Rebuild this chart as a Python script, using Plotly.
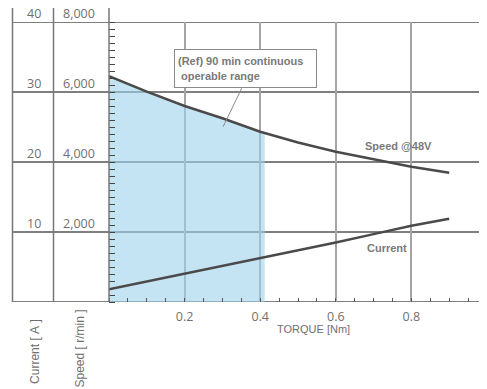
import plotly.graph_objects as go

# values
torque = [0, 0.1, 0.2, 0.3, 0.4, 0.5, 0.6, 0.7, 0.8, 0.9]
speed = [6450, 6010, 5600, 5250, 4866, 4557, 4294, 4070, 3866, 3694]
current = [1.8, 2.9, 4.1, 5.2, 6.3, 7.4, 8.5, 9.7, 10.9, 11.9]

# 90 min continuous operable range (shaded)
range_torque = [0, 0.1, 0.2, 0.3, 0.4, 0.412]
range_speed = [6450, 6010, 5600, 5250, 4866, 4835]

speed_ticks = [2000, 4000, 6000, 8000]
speed_labels = ["2,000", "4,000", "6,000", "8,000"]
current_labels = ["10", "20", "30", "40"]
y_max = 8000

LABEL_FONT = "Open Sans, Noto Sans, sans-serif"
TEXT_FONT = "Liberation Sans, Arial, sans-serif"
TXT = "#707070"
DARK = "#4a4a4a"
NB = "\u00a0"

fig = go.Figure()

fig.add_trace(go.Scatter(
    x=range_torque, y=range_speed, mode="lines", fill="tozeroy",
    fillcolor="rgba(157,210,237,0.6)", line=dict(width=0),
    hoverinfo="skip", showlegend=False,
))
fig.add_trace(go.Scatter(
    x=torque, y=speed, mode="lines", line=dict(color=DARK, width=2.5),
    name="Speed @48V", showlegend=False,
))
fig.add_trace(go.Scatter(
    x=torque, y=current, mode="lines", line=dict(color=DARK, width=2.5),
    name="Current", yaxis="y2", showlegend=False,
))

# left table: vertical separators and horizontal rules
top = 1 + 14 / 280
for xp in [-0.2553, -0.1468, 0]:
    fig.add_shape(type="line", xref="paper", yref="paper", x0=xp, x1=xp,
                  y0=0, y1=top, line=dict(color="#777777", width=1.5), layer="above")
for v in [0] + speed_ticks:
    fig.add_shape(type="line", xref="paper", yref="y", x0=-0.2553, x1=1,
                  y0=v, y1=v, line=dict(color="#555555", width=1.3), layer="below")

for v, sl, cl in zip(speed_ticks, speed_labels, current_labels):
    yp = v / y_max + 0.032
    fig.add_annotation(x=-0.0317, y=yp, xref="paper", yref="paper", text=sl,
                       showarrow=False, xanchor="right", yanchor="middle",
                       font=dict(family=LABEL_FONT, size=12.5, color=TXT))
    fig.add_annotation(x=-0.1746, y=yp, xref="paper", yref="paper", text=cl,
                       showarrow=False, xanchor="right", yanchor="middle",
                       font=dict(family=LABEL_FONT, size=12.5, color=TXT))

fig.add_annotation(x=-0.196, y=-0.175, xref="paper", yref="paper",
                   text=f"Current{NB}[{NB}A{NB}]", textangle=-90, showarrow=False,
                   xanchor="center", yanchor="middle",
                   font=dict(family=TEXT_FONT, size=12, color=TXT))
fig.add_annotation(x=-0.0767, y=-0.166, xref="paper", yref="paper",
                   text=f"Speed{NB}[{NB}r/min{NB}]", textangle=-90, showarrow=False,
                   xanchor="center", yanchor="middle",
                   font=dict(family=TEXT_FONT, size=12, color=TXT))
fig.add_annotation(x=0.54, y=-0.096, xref="paper", yref="paper", text="TORQUE [Nm]",
                   showarrow=False, xanchor="center", yanchor="middle",
                   font=dict(family=TEXT_FONT, size=11, color=TXT))

# curve labels
fig.add_annotation(x=0.765, y=4457, text="<b>Speed @48V</b>", showarrow=False,
                   font=dict(family=TEXT_FONT, size=11, color="#7a7a7a"))
fig.add_annotation(x=0.736, y=1534, text="<b>Current</b>", showarrow=False,
                   font=dict(family=TEXT_FONT, size=11, color="#7a7a7a"))

# callout box
fig.add_shape(type="line", x0=0.351, y0=6106, x1=0.302, y1=5009,
              line=dict(color="#8a8a8a", width=1))
fig.add_annotation(x=0.362, y=6660, text="<b>(Ref) 90 min continuous<br> operable range</b>",
                   showarrow=False, align="left", bgcolor="white",
                   bordercolor="#8a8a8a", borderwidth=1, borderpad=3, width=135, height=31,
                   font=dict(family=TEXT_FONT, size=11, color="#7a7a7a"))

fig.update_layout(
    width=479, height=381,
    margin=dict(l=101, r=0, t=14, b=87, autoexpand=False),
    paper_bgcolor="white", plot_bgcolor="white",
    xaxis=dict(
        range=[0, 1.0], tickvals=[0.2, 0.4, 0.6, 0.8, 1.0],
        ticktext=["0.2", "0.4", "0.6", "0.8", "1.0"],
        showgrid=True, gridcolor="#a5a5a5", gridwidth=2,
        zeroline=False, showline=False, ticks="", automargin=False,
        ticklabelstandoff=5, ticklabeloverflow="allow",
        tickfont=dict(family=LABEL_FONT, size=12.5, color=TXT),
        minor=dict(dtick=0.05, ticks="inside", ticklen=4, tickcolor="#555555",
                   tickwidth=1, showgrid=False),
    ),
    yaxis=dict(
        range=[0, y_max], showgrid=False, zeroline=False, showline=False,
        showticklabels=False, ticks="", tickvals=speed_ticks, automargin=False,
        minor=dict(dtick=200, ticks="inside", ticklen=6, tickcolor="#444444",
                   tickwidth=1.2, showgrid=False),
    ),
    yaxis2=dict(range=[0, 40], overlaying="y", visible=False),
    showlegend=False,
)

fig.write_html("out.html")
